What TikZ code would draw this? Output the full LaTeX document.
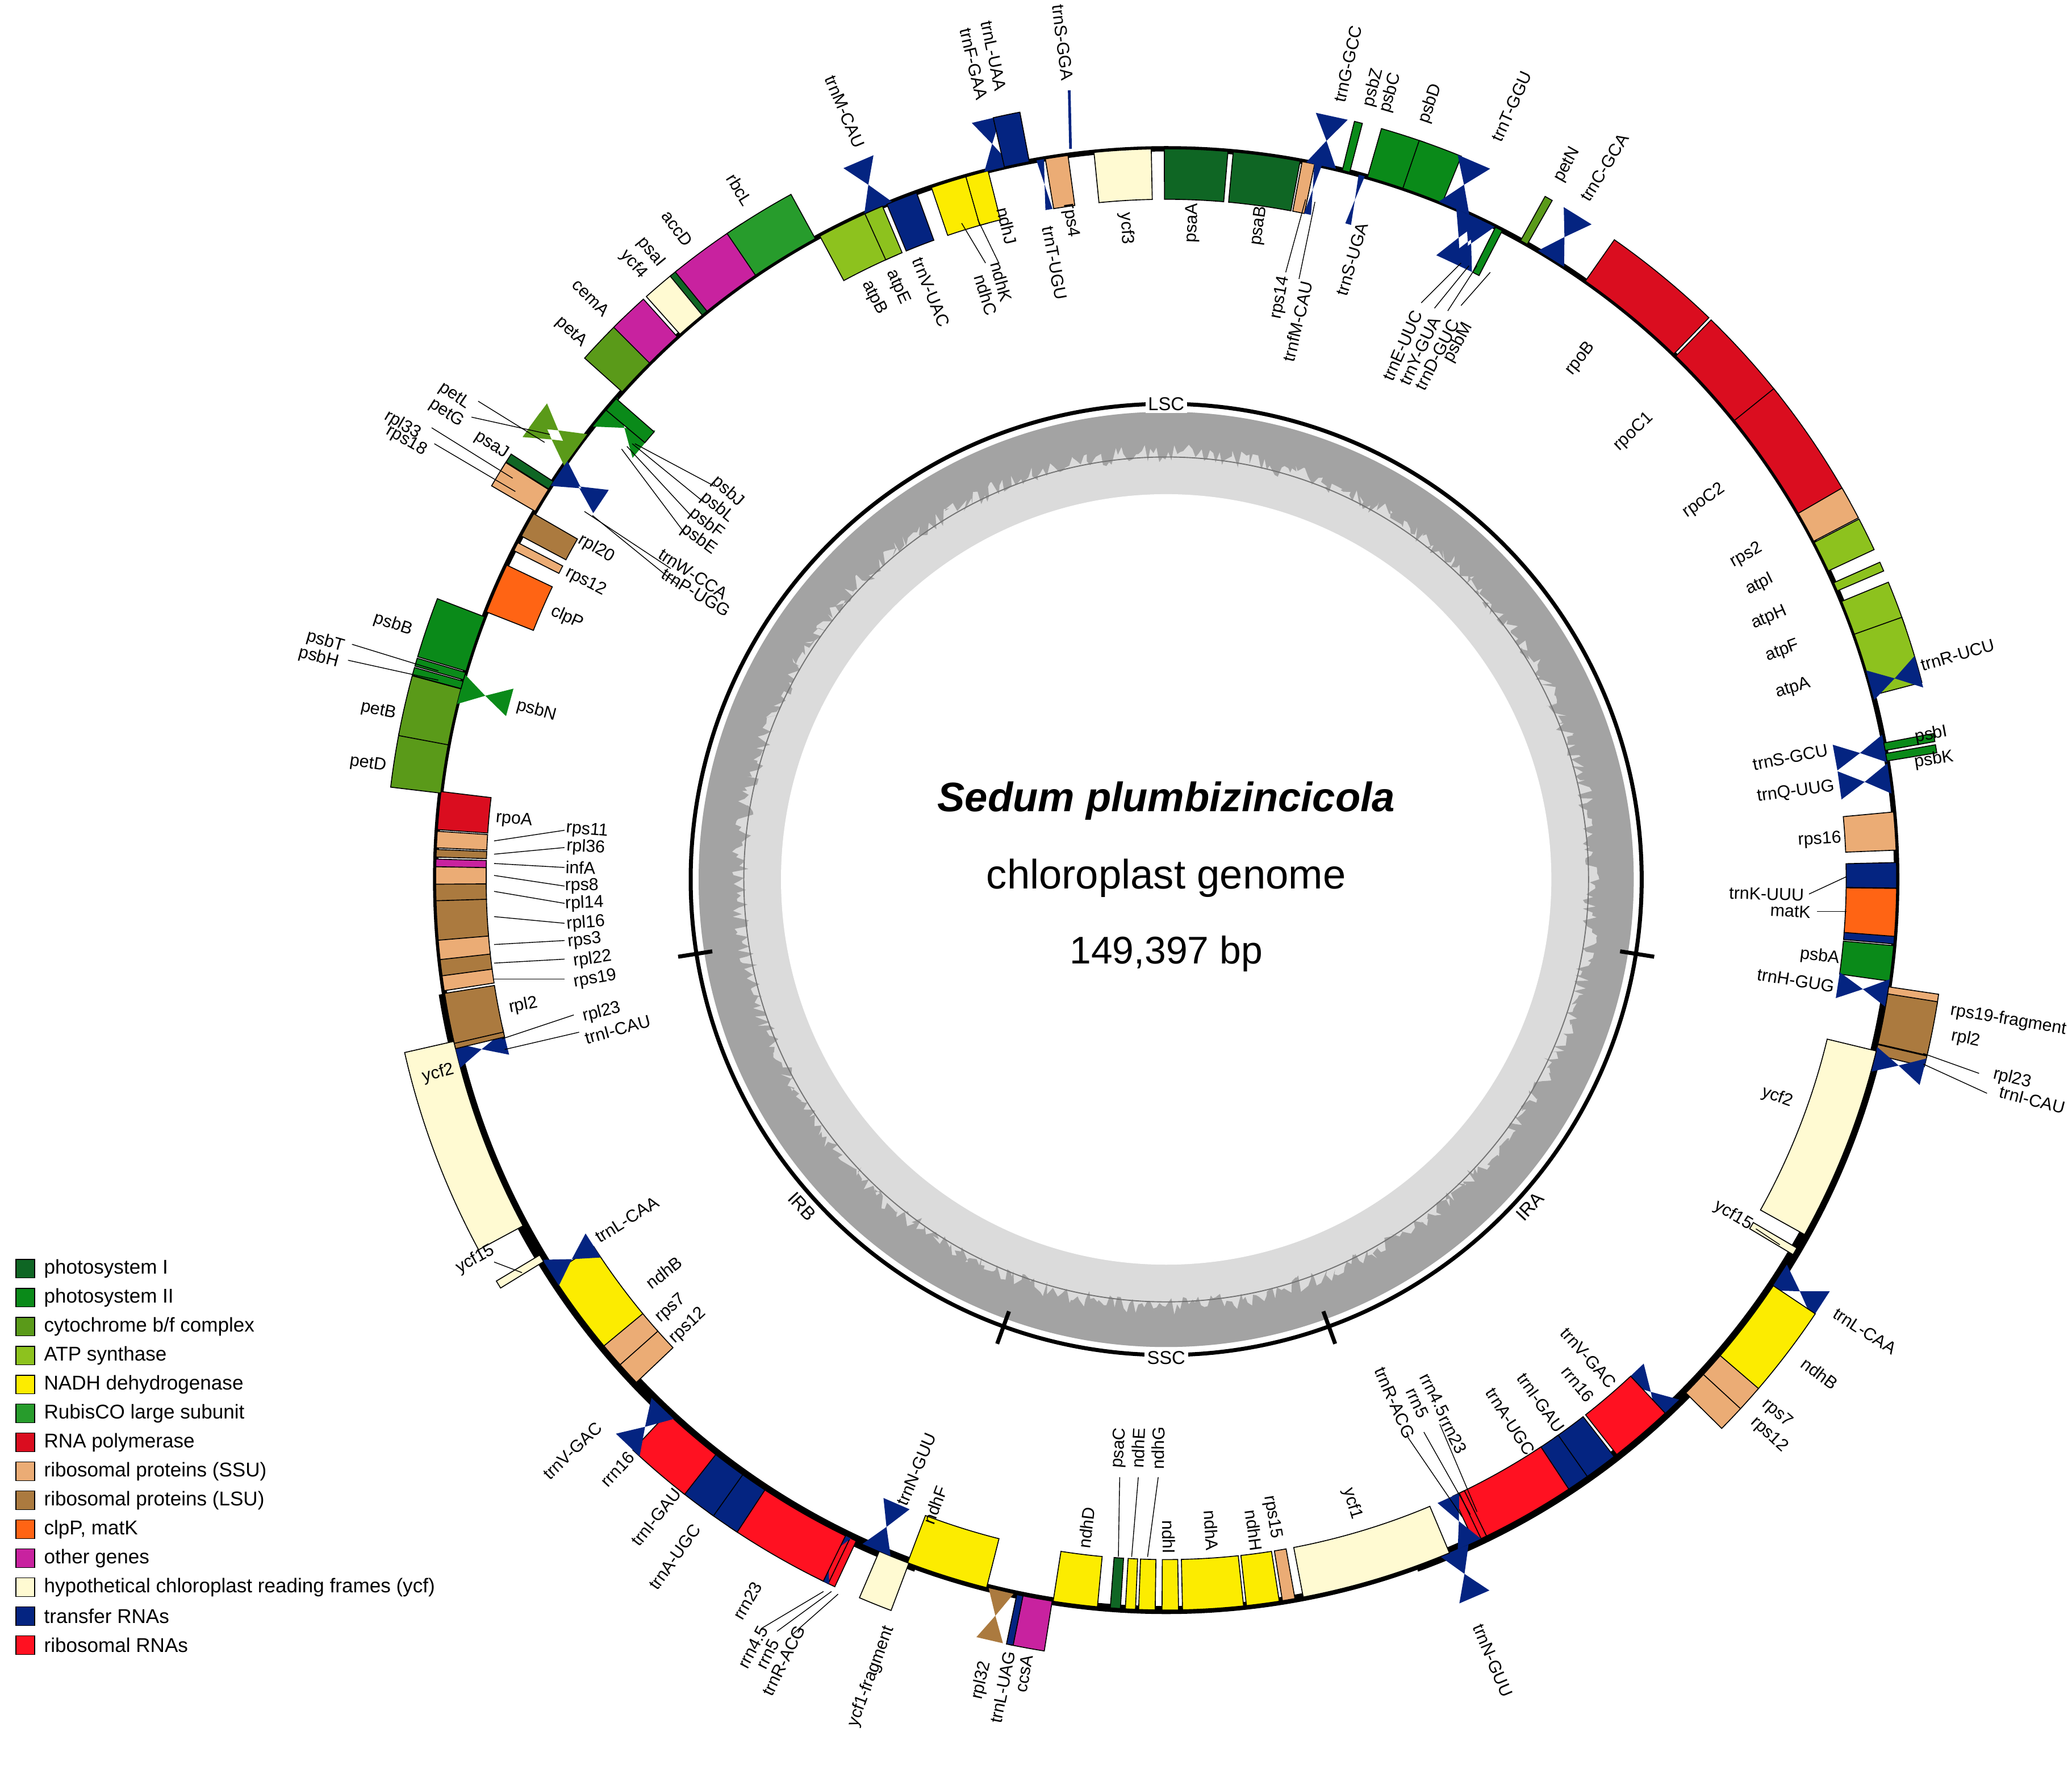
\documentclass[tikz,border=0pt]{standalone}
\usepackage{fontspec}
\setmainfont{Liberation Sans}
\begin{document}
\definecolor{psI}{HTML}{0F6624}
\definecolor{psII}{HTML}{0A8A19}
\definecolor{cyt}{HTML}{5A9A19}
\definecolor{atp}{HTML}{8DC21E}
\definecolor{ndh}{HTML}{FCEC00}
\definecolor{rbc}{HTML}{279C2C}
\definecolor{rpo}{HTML}{DA0D1F}
\definecolor{rps}{HTML}{EBAC75}
\definecolor{rpl}{HTML}{AB7A3F}
\definecolor{clp}{HTML}{FF6414}
\definecolor{oth}{HTML}{C8229F}
\definecolor{ycf}{HTML}{FFFAD2}
\definecolor{trna}{HTML}{042481}
\definecolor{rrna}{HTML}{FF1121}
\newcounter{lc}
% gene box: [height]{x}{y}{width deg}{side}{color}
\newcommand\gb[6][38]{%
 \pgfmathsetmacro\ga{atan2(#3-662,#2-878)}%
 \pgfmathsetmacro\gs{\ga-#4/2}\pgfmathsetmacro\ge{\ga+#4/2}%
 \pgfmathsetmacro\go{550+#5*#1}%
 \filldraw[fill=#6,draw=black,line width=0.7,shift={(878,662)}] (\gs:550) arc[start angle=\gs,end angle=\ge,radius=550] -- (\ge:\go) arc[start angle=\ge,end angle=\gs,radius=\go] -- cycle;}
% tRNA bowtie: {x}{y}{side}{width}{color}
\newcommand\tr[5]{%
 \pgfmathsetmacro\ga{atan2(#2-662,#1-878)}%
 \pgfmathsetmacro\gs{\ga-#4/2}\pgfmathsetmacro\ge{\ga+#4/2}%
 \pgfmathsetmacro\go{550+#3*38}\pgfmathsetmacro\gm{550+#3*19}%
 \fill[#5,shift={(878,662)}] (\gs:550) -- (\ge:550) -- (\ga:\gm) -- (\ge:\go) -- (\gs:\go) -- (\ga:\gm) -- cycle;}
% label
\newcommand\gl[3]{%
 \pgfmathsetmacro\va{atan2(662-#2,#1-878)}%
 \pgfmathsetmacro\vr{ifthenelse(abs(\va)>90,\va+180,\va)}%
 \stepcounter{lc}%
 \node[lab,rotate=\vr] (L\arabic{lc}) at (#1,#2) {#3};}
\begin{tikzpicture}[x=1pt,y=1pt,yscale=-1,
 lab/.style={font=\fontsize{13}{13}\selectfont,inner sep=0pt},
 leader/.style={draw=black,line width=0.6},
 legt/.style={font=\fontsize{15}{15}\selectfont,anchor=west,inner sep=0pt}]
\useasboundingbox (0,0) rectangle (1560,1328.6);
\fill[white] (0,0) rectangle (1560,1328.6);
% ---- inner GC ring
\fill[black!14] (878,662) circle[radius=352];
\fill[white] (878,662) circle[radius=290];
\pgfmathsetseed{7}
\fill[black!36,even odd rule] (878,662) circle[radius=352]
  plot[domain=0:360,samples=900,variable=\t,shift={(878,662)}] (\t:{350-22-14*rnd}) -- cycle;
\draw[black!55,line width=0.8] (878,662) circle[radius=318];
\draw[black,line width=3] (878,662) circle[radius=358];
\foreach \a/\n in {9/a,70/b,110/c,171/d}
  \draw[black,line width=3,shift={(878,662)}] (\a:346) -- (\a:372);
\node[fill=white,inner sep=2pt,font=\fontsize{14}{14}\selectfont] (LSC) at (878,304) {LSC};
\node[fill=white,inner sep=2pt,font=\fontsize{14}{14}\selectfont,rotate=47] (IRA) at (1152,908) {IRA};
\node[fill=white,inner sep=2pt,font=\fontsize{14}{14}\selectfont] (SSC) at (878,1022) {SSC};
\node[fill=white,inner sep=2pt,font=\fontsize{14}{14}\selectfont,rotate=-47] (IRB) at (604,908) {IRB};
% ---- centre text
\node[font=\fontsize{31}{31}\selectfont\bfseries\itshape] (t1) at (878,603) {Sedum plumbizincicola};
\node[font=\fontsize{31}{31}\selectfont] (t2) at (878,661) {chloroplast genome};
\node[font=\fontsize{29}{29}\selectfont] (t3) at (878,718) {149,397 bp};
% ---- main circle
\draw[line width=4] (878,662) circle[radius=550];
\draw[line width=9,shift={(878,662)}] (9:550) arc[start angle=9,end angle=70,radius=550];
\draw[line width=9,shift={(878,662)}] (110:550) arc[start angle=110,end angle=171,radius=550];
\draw[line width=6,shift={(878,662)}] (70:550) arc[start angle=70,end angle=110,radius=550];
% ---- top genes
\draw[trna,line width=2] (805,68)--(806,112);
\gb{797}{128}{1.8}{-1}{rps}
\tr{784}{125}{-1}{0.6}{trna}
\gb{846}{127}{4.5}{-1}{ycf}
\gb{900}{127}{5}{-1}{psI}
\gb{952}{130}{5.3}{-1}{psI}
\gb{983}{133}{1}{-1}{rps}
\tr{990}{135}{-1}{0.6}{trna}
\tr{1000}{100}{1}{2.4}{trna}
\gb{1020}{103}{0.6}{1}{psII}
\tr{1023}{140}{-1}{0.5}{trna}
\gb{1053}{112}{3.3}{1}{psII}
\gb{1082}{118}{3.3}{1}{psII}
\tr{1107}{128}{1}{2.6}{trna}
\tr{1100}{175}{-1}{2.2}{trna}
\tr{1107}{178}{-1}{2.2}{trna}
\tr{1113}{172}{-1}{2.2}{trna}
\gb{1122}{185}{0.6}{-1}{psII}
\gb{1160}{160}{0.6}{1}{cyt}
\tr{1180}{175}{1}{2.4}{trna}
\gb{1222}{245}{9}{1}{rpo}
\gb{1280}{300}{7.5}{1}{rpo}
\gb{1327}{360}{10}{1}{rpo}
\gb{1345}{405}{2.5}{1}{rps}
\gb{1355}{427}{2.5}{1}{atp}
\gb{1363}{450}{0.7}{1}{atp}
\gb{1375}{475}{3.5}{1}{atp}
\gb{1388}{505}{5}{1}{atp}
\tr{1418}{513}{1}{2.4}{trna}
\tr{1405}{566}{-1}{2.2}{trna}
\gb{1430}{560}{0.6}{1}{psII}
\gb{1432}{568}{0.6}{1}{psII}
\tr{1408}{588}{-1}{2.4}{trna}
\gb{1405}{627}{3}{-1}{rps}
\gb{1405}{659}{2}{-1}{trna}
\gb{1405}{686}{3.8}{-1}{clp}
\gb{1405}{706}{0.6}{-1}{trna}
\gb{1405}{723}{2.8}{-1}{psII}
\tr{1405}{745}{-1}{2.2}{trna}
\gb{1430}{748}{0.8}{1}{rps}
\gb{1433}{770}{4}{1}{rpl}
\gb{1425}{793}{0.8}{1}{rpl}
\tr{1425}{801}{1}{2}{trna}
\gb{1385}{860}{15.5}{-1}{ycf}
\gb{1343}{937}{0.6}{-1}{ycf}
\tr{1355}{972}{1}{2.4}{trna}
\gb{1335}{1010}{7}{1}{ndh}
\gb{1306}{1043}{2}{1}{rps}
\gb{1292}{1057}{2}{1}{rps}
\tr{1245}{1050}{-1}{2.4}{trna}
\gb{1230}{1073}{5}{-1}{rrna}
\gb{1200}{1100}{3}{-1}{trna}
\gb{1181}{1112}{2.5}{-1}{trna}
\gb{1145}{1135}{8}{-1}{rrna}
\gb{1112}{1148}{0.6}{-1}{rrna}
\gb{1108}{1150}{0.6}{-1}{rrna}
\tr{1102}{1153}{-1}{2}{trna}
\tr{1107}{1195}{1}{2.4}{trna}
% ---- SSC
\gb{1030}{1165}{12}{-1}{ycf}
\gb{967}{1185}{1}{-1}{rps}
\gb{948}{1186}{2.6}{-1}{ndh}
\gb{912}{1190}{4.8}{-1}{ndh}
\gb{881}{1192}{1.3}{-1}{ndh}
\gb{864}{1192}{1.3}{-1}{ndh}
\gb{852}{1192}{0.8}{-1}{ndh}
\gb{841}{1192}{0.8}{-1}{psI}
\gb{812}{1188}{3.5}{-1}{ndh}
\gb{780}{1205}{2.5}{1}{oth}
\gb{767}{1205}{0.5}{1}{trna}
\tr{752}{1205}{1}{2}{rpl}
\gb{718}{1170}{6.5}{-1}{ndh}
% ---- IRB
\gb{668}{1185}{2.5}{1}{ycf}
\tr{665}{1155}{-1}{2.4}{trna}
\gb{631}{1182}{0.6}{1}{rrna}
\gb{626}{1180}{0.6}{1}{rrna}
\tr{620}{1178}{1}{2}{trna}
\gb{590}{1160}{8}{1}{rrna}
\gb{550}{1138}{2.5}{1}{trna}
\gb{530}{1125}{3}{1}{trna}
\gb{503}{1100}{5}{1}{rrna}
\tr{480}{1080}{1}{2.4}{trna}
\gb{482}{1025}{2}{-1}{rps}
\gb{470}{1012}{2}{-1}{rps}
\gb{450}{975}{7}{-1}{ndh}
\tr{435}{945}{-1}{2.4}{trna}
\gb{395}{955}{0.6}{1}{ycf}
\gb{350}{860}{15.5}{1}{ycf}
\tr{362}{790}{-1}{2}{trna}
\gb{358}{782}{0.8}{-1}{rpl}
\gb{357}{763}{4}{-1}{rpl}
% ---- LSC left
\gb{355}{737}{1.2}{-1}{rps}
\gb{352}{725}{1.5}{-1}{rpl}
\gb{350}{711}{2}{-1}{rps}
\gb{348}{690}{3.5}{-1}{rpl}
\gb{348}{671}{1.4}{-1}{rpl}
\gb{348}{659}{1.4}{-1}{rps}
\gb{348}{650}{0.6}{-1}{oth}
\gb{348}{643}{0.6}{-1}{rpl}
\gb{348}{633}{1.3}{-1}{rps}
\gb{350}{612}{3}{-1}{rpo}
\gb{315}{575}{4}{1}{cyt}
\gb{322}{535}{4.5}{1}{cyt}
\tr{370}{525}{-1}{2.4}{psII}
\gb{335}{512}{0.6}{1}{psII}
\gb{336}{505}{0.6}{1}{psII}
\gb{338}{478}{4.5}{1}{psII}
\gb{390}{450}{4}{-1}{clp}
\gb{405}{420}{0.7}{-1}{rps}
\gb{415}{405}{2}{-1}{rpl}
\gb{390}{350}{0.8}{1}{psI}
\gb{388}{357}{0.8}{1}{rpl}
\gb{392}{367}{2}{1}{rps}
\tr{438}{367}{-1}{2.2}{trna}
\tr{443}{372}{-1}{2.2}{trna}
\tr{470}{322}{-1}{3}{psII}
\gb{476}{318}{1.2}{-1}{psII}
\tr{410}{327}{1}{2.2}{cyt}
\tr{415}{320}{1}{2.2}{cyt}
\gb{465}{265}{4}{1}{cyt}
\gb{482}{245}{3}{1}{oth}
\gb{505}{225}{2.5}{1}{ycf}
\gb{515}{215}{0.7}{1}{psI}
\gb{543}{200}{6}{1}{oth}
\gb{580}{175}{5.5}{1}{rbc}
\tr{652}{135}{1}{2.4}{trna}
\gb{645}{180}{5}{-1}{atp}
\gb{663}{170}{1.5}{-1}{atp}
\gb{683}{160}{2.5}{-1}{trna}
\gb{720}{145}{3.5}{-1}{ndh}
\gb{738}{140}{1.8}{-1}{ndh}
\tr{745}{100}{1}{2.2}{trna}
\gb{760}{97}{2}{1}{trna}
% ---- leader lines
\draw[leader] (983,150)--(968,205);
\draw[leader] (990,152)--(978,210);
\draw[leader] (1100,198)--(1070,228);
\draw[leader] (1106,200)--(1080,232);
\draw[leader] (1112,200)--(1090,234);
\draw[leader] (1122,205)--(1100,230);
\draw[leader] (724,168)--(742,198);
\draw[leader] (736,165)--(752,198);
\draw[leader] (410,333)--(360,302);
\draw[leader] (414,327)--(355,314);
\draw[leader] (478,334)--(538,366);
\draw[leader] (476,334)--(530,378);
\draw[leader] (472,336)--(522,390);
\draw[leader] (468,338)--(516,402);
\draw[leader] (440,385)--(505,428);
\draw[leader] (446,388)--(510,440);
\draw[leader] (386,360)--(325,322);
\draw[leader] (388,370)--(327,334);
\draw[leader] (330,505)--(265,485);
\draw[leader] (330,512)--(262,497);
\foreach \yg/\yl in {633/625,643/638,650/653,659/667,671/680,690/695,711/708,725/722,737/737}
  \draw[leader] (372,\yg)--(425,\yl);
\draw[leader] (378,782)--(432,764);
\draw[leader] (380,790)--(436,777);
\draw[leader] (1448,793)--(1490,808);
\draw[leader] (1448,801)--(1496,823);
\draw[leader] (1390,660)--(1362,673);
\draw[leader] (1390,686)--(1368,686);
\draw[leader] (842,1172)--(843,1112);
\draw[leader] (852,1172)--(857,1112);
\draw[leader] (864,1172)--(872,1112);
\draw[leader] (1112,1138)--(1084,1072);
\draw[leader] (1107,1140)--(1072,1078);
\draw[leader] (1101,1142)--(1060,1082);
\draw[leader] (631,1200)--(597,1230);
\draw[leader] (626,1198)--(585,1228);
\draw[leader] (620,1198)--(573,1226);
\draw[leader] (393,958)--(372,950);
\draw[leader] (1340,937)--(1322,925);
% ---- labels
\gl{800}{32}{trnS-GGA}
\gl{806}{166}{rps4}
\gl{794}{198}{trnT-UGU}
\gl{848}{172}{ycf3}
\gl{898}{168}{psaA}
\gl{948}{170}{psaB}
\gl{964}{224}{rps14}
\gl{977}{242}{trnfM-CAU}
\gl{1015}{48}{trnG-GCC}
\gl{1034}{66}{psbZ}
\gl{1018}{195}{trnS-UGA}
\gl{1047}{70}{psbC}
\gl{1077}{78}{psbD}
\gl{1138}{80}{trnT-GGU}
\gl{1056}{260}{trnE-UUC}
\gl{1069}{264}{trnY-GUA}
\gl{1082}{267}{trnD-GUC}
\gl{1098}{258}{psbM}
\gl{1180}{124}{petN}
\gl{1208}{126}{trnC-GCA}
\gl{1190}{270}{rpoB}
\gl{1230}{325}{rpoC1}
\gl{1283}{377}{rpoC2}
\gl{1315}{418}{rps2}
\gl{1325}{440}{atpI}
\gl{1332}{465}{atpH}
\gl{1342}{490}{atpF}
\gl{1350}{518}{atpA}
\gl{1474}{493}{trnR-UCU}
\gl{1348}{570}{trnS-GCU}
\gl{1454}{553}{psbI}
\gl{1456}{572}{psbK}
\gl{1352}{596}{trnQ-UUG}
\gl{1370}{632}{rps16}
\gl{1330}{673}{trnK-UUU}
\gl{1348}{686}{matK}
\gl{1370}{720}{psbA}
\gl{1352}{738}{trnH-GUG}
\gl{1512}{768}{rps19-fragment}
\gl{1480}{782}{rpl2}
\gl{1515}{812}{rpl23}
\gl{1530}{828}{trnI-CAU}
\gl{1338}{826}{ycf2}
\gl{1305}{915}{ycf15}
\gl{1404}{1002}{trnL-CAA}
\gl{1370}{1034}{ndhB}
\gl{1338}{1064}{rps7}
\gl{1332}{1080}{rps12}
\gl{1196}{1022}{trnV-GAC}
\gl{1188}{1042}{rrn16}
\gl{1160}{1056}{trnI-GAU}
\gl{1137}{1070}{trnA-UGC}
\gl{1094}{1080}{rrn23}
\gl{1080}{1050}{rrn4.5}
\gl{1067}{1056}{rrn5}
\gl{1050}{1056}{trnR-ACG}
\gl{1124}{1250}{trnN-GUU}
\gl{1018}{1132}{ycf1}
\gl{958}{1142}{rps15}
\gl{944}{1152}{ndhH}
\gl{912}{1152}{ndhA}
\gl{880}{1157}{ndhI}
\gl{872}{1090}{ndhG}
\gl{857}{1090}{ndhE}
\gl{843}{1090}{psaC}
\gl{818}{1150}{ndhD}
\gl{771}{1260}{ccsA}
\gl{755}{1270}{trnL-UAG}
\gl{739}{1265}{rpl32}
\gl{704}{1133}{ndhF}
\gl{656}{1262}{ycf1-fragment}
\gl{690}{1106}{trnN-GUU}
\gl{590}{1250}{trnR-ACG}
\gl{578}{1245}{rrn5}
\gl{567}{1240}{rrn4.5}
\gl{563}{1205}{rrn23}
\gl{508}{1172}{trnA-UGC}
\gl{494}{1142}{trnI-GAU}
\gl{465}{1106}{rrn16}
\gl{431}{1092}{trnV-GAC}
\gl{518}{998}{rps12}
\gl{505}{985}{rps7}
\gl{500}{958}{ndhB}
\gl{472}{918}{trnL-CAA}
\gl{358}{948}{ycf15}
\gl{330}{808}{ycf2}
\gl{465}{775}{trnI-CAU}
\gl{453}{762}{rpl23}
\gl{394}{757}{rpl2}
\gl{448}{737}{rps19}
\gl{446}{722}{rpl22}
\gl{440}{708}{rps3}
\gl{441}{695}{rpl16}
\gl{440}{680}{rpl14}
\gl{438}{667}{rps8}
\gl{437}{653}{infA}
\gl{441}{638}{rpl36}
\gl{442}{625}{rps11}
\gl{387}{617}{rpoA}
\gl{277}{575}{petD}
\gl{285}{535}{petB}
\gl{404}{535}{psbN}
\gl{245}{483}{psbT}
\gl{240}{495}{psbH}
\gl{296}{470}{psbB}
\gl{427}{465}{clpP}
\gl{441}{438}{rps12}
\gl{449}{413}{rpl20}
\gl{370}{335}{psaJ}
\gl{303}{320}{rpl33}
\gl{306}{332}{rps18}
\gl{522}{432}{trnW-CCA}
\gl{524}{446}{trnP-UGG}
\gl{548}{370}{psbJ}
\gl{540}{382}{psbL}
\gl{532}{394}{psbF}
\gl{526}{406}{psbE}
\gl{342}{298}{petL}
\gl{336}{311}{petG}
\gl{430}{250}{petA}
\gl{445}{224}{cemA}
\gl{477}{199}{ycf4}
\gl{490}{190}{psaI}
\gl{510}{172}{accD}
\gl{557}{143}{rbcL}
\gl{636}{84}{trnM-CAU}
\gl{658}{224}{atpB}
\gl{676}{216}{atpE}
\gl{701}{220}{trnV-UAC}
\gl{742}{222}{ndhC}
\gl{754}{212}{ndhK}
\gl{758}{170}{ndhJ}
\gl{733}{48}{trnF-GAA}
\gl{748}{42}{trnL-UAA}
% ---- legend
\foreach \c/\t [count=\i from 0] in {psI/photosystem I,psII/photosystem II,cyt/{cytochrome b/f complex},atp/ATP synthase,ndh/NADH dehydrogenase,rbc/RubisCO large subunit,rpo/RNA polymerase,rps/ribosomal proteins (SSU),rpl/ribosomal proteins (LSU),clp/{clpP, matK},oth/other genes,ycf/hypothetical chloroplast reading frames (ycf),trna/transfer RNAs,rrna/ribosomal RNAs}{
  \filldraw[fill=\c,draw=black,line width=0.6] (12,{948+21.8*\i}) rectangle (26,{962+21.8*\i});
  \node[legt] (leg\i) at (33,{955+21.8*\i}) {\t};
}
\end{tikzpicture}
\end{document}
